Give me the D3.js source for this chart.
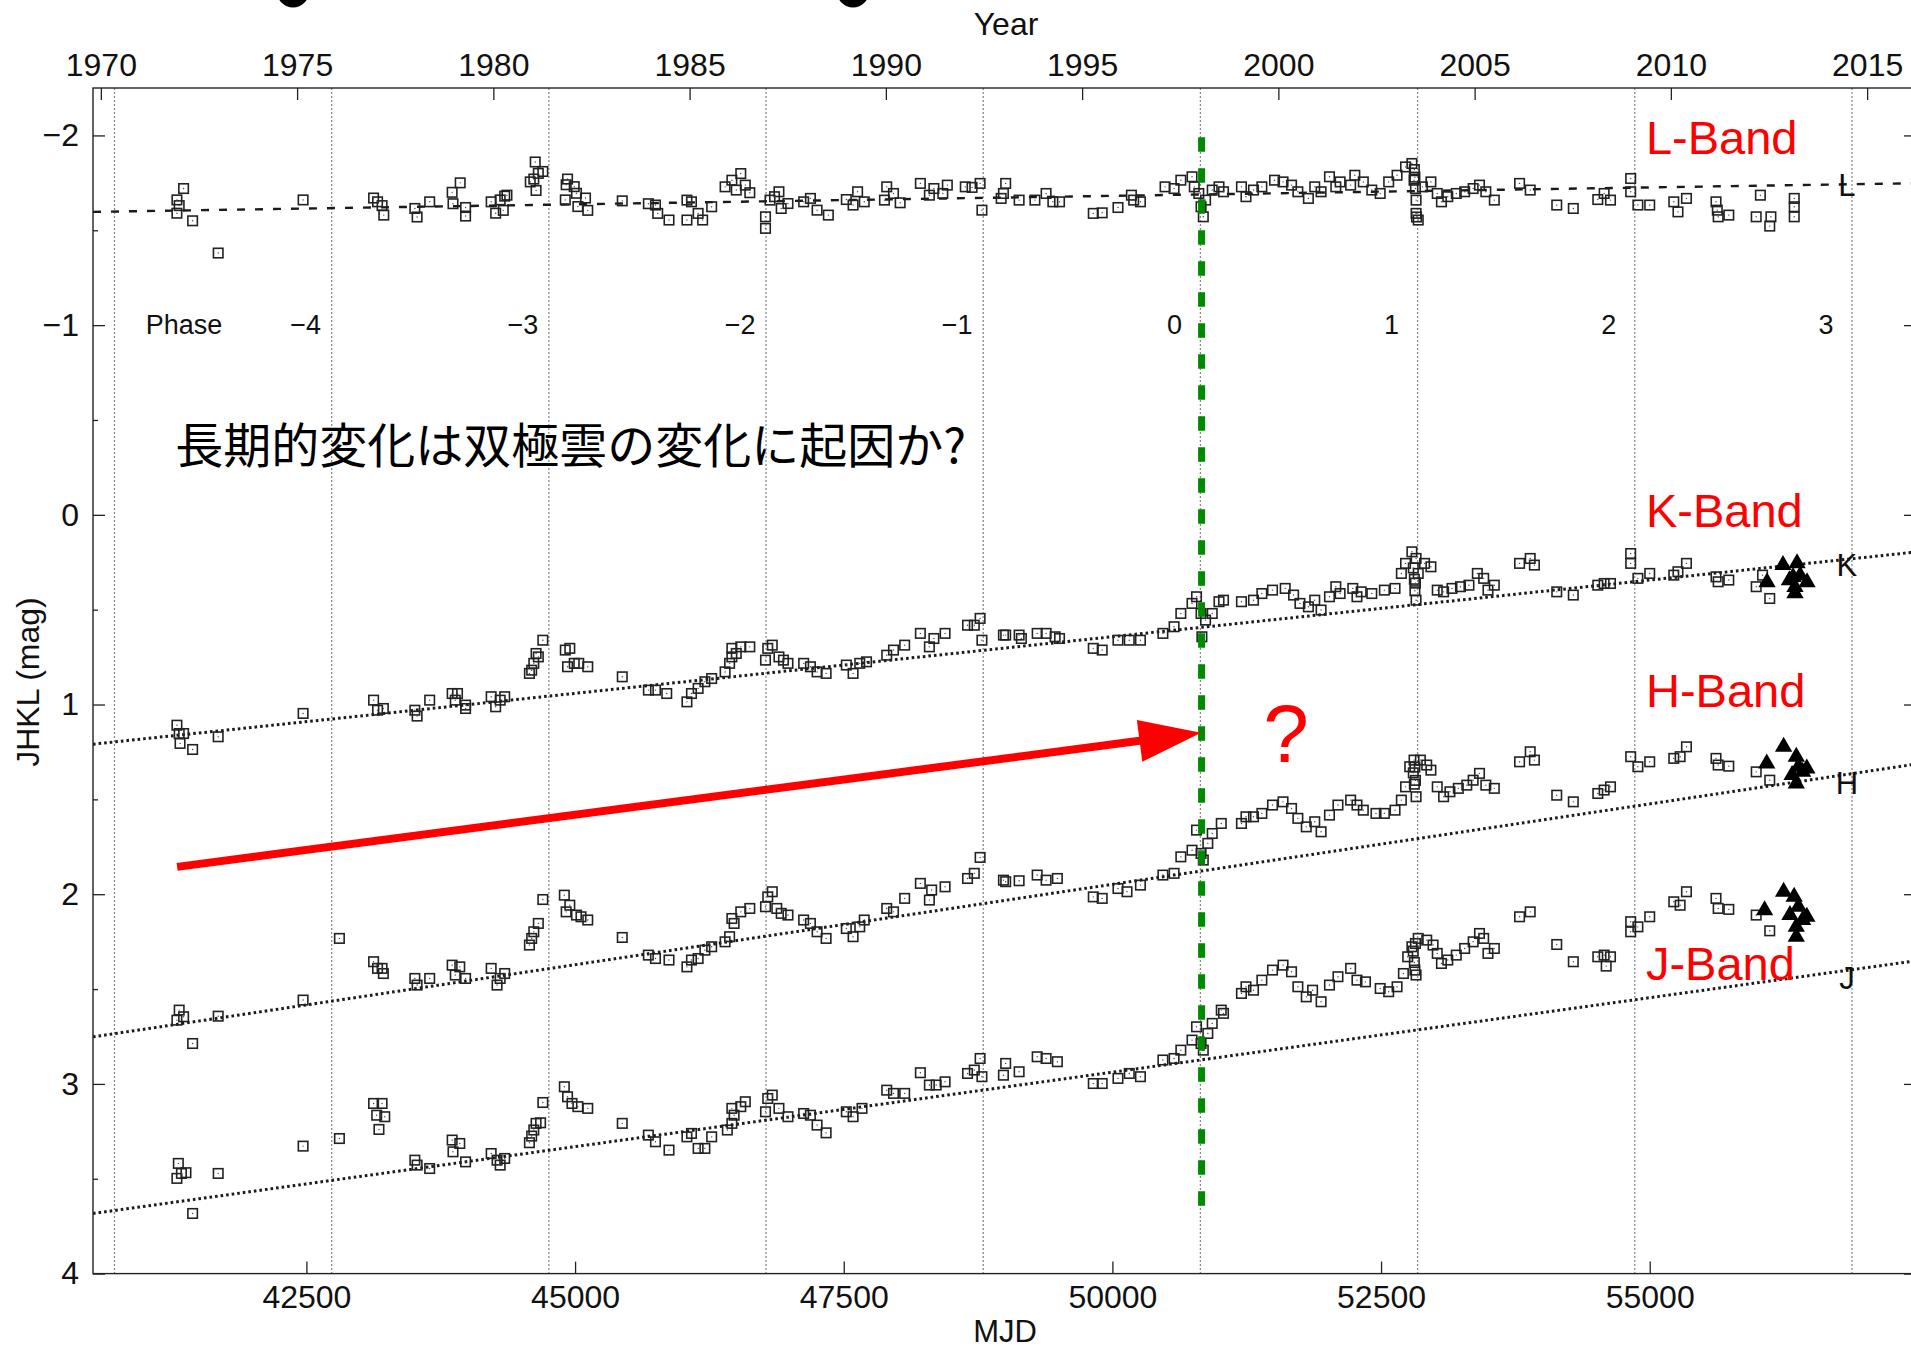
<!DOCTYPE html>
<html>
<head>
<meta charset="utf-8">
<script src="https://cdn.jsdelivr.net/npm/d3@7"></script>
<style>
  body { margin: 0; background: #fff; }
  svg { display: block; }
</style>
</head>
<body>
<div id="chart"></div>
<script>
// ---- values: [MJD, magnitude] ----
const bandL = [
  [41295,-1.66],[41316,-1.63],[41295,-1.59],[41357,-1.72],[41441,-1.55],[41679,-1.38],[42469,-1.66],
  [43125,-1.67],[43162,-1.65],[43204,-1.63],[43220,-1.58],[43509,-1.615],[43530,-1.57],[43647,-1.65],
  [43856,-1.70],[43931,-1.75],[43864,-1.64],[43981,-1.62],[43981,-1.575],[44219,-1.65],[44261,-1.59],
  [44303,-1.66],[44345,-1.68],[44366,-1.685],[44332,-1.605],[44583,-1.755],[44616,-1.77],[44629,-1.86],
  [44658,-1.80],[44700,-1.81],[44637,-1.71],[44930,-1.77],[44917,-1.74],[44992,-1.73],[45013,-1.695],
  [45097,-1.67],[45118,-1.605],[45026,-1.625],[44909,-1.66],[45439,-1.655],[45682,-1.64],
  [45748,-1.633],[45769,-1.589],[45874,-1.554],[46041,-1.659],[46083,-1.65],[46041,-1.554],[46145,-1.589],
  [46187,-1.554],[46271,-1.624],[46396,-1.729],[46459,-1.764],[46500,-1.712],[46542,-1.799],[46584,-1.738],
  [46626,-1.698],[46772,-1.571],[46772,-1.51],[46814,-1.659],[46856,-1.677],[46897,-1.703],[46918,-1.615],
  [46981,-1.641],[47127,-1.65],[47190,-1.668],[47252,-1.606],[47357,-1.58],[47524,-1.662],[47587,-1.633],
  [47629,-1.703],[47691,-1.65],[47879,-1.659],[47900,-1.729],[47963,-1.694],[48025,-1.645],[48213,-1.747],
  [48297,-1.685],[48339,-1.72],[48422,-1.694],[48464,-1.738],[48631,-1.729],[48694,-1.726],[48769,-1.747],
  [48786,-1.606],[48965,-1.668],[49007,-1.747],[48986,-1.694],[49132,-1.659],[49279,-1.659],[49383,-1.694],
  [49446,-1.65],[49508,-1.65],[49822,-1.589],[49905,-1.592],[50052,-1.62],[50177,-1.685],[50198,-1.659],
  [50261,-1.65],[50490,-1.729],[50574,-1.72],[50637,-1.764],[50741,-1.782],[50762,-1.729],[50804,-1.694],
  [50825,-1.624],[50846,-1.571],[50867,-1.659],[50929,-1.712],[50992,-1.729],[51034,-1.703],[51201,-1.729],
  [51243,-1.677],[51313,-1.712],[51391,-1.729],[51509,-1.764],[51588,-1.755],[51667,-1.738],[51726,-1.703],
  [51824,-1.668],[51883,-1.729],[51942,-1.703],[52020,-1.782],[52079,-1.729],[52119,-1.755],[52217,-1.738],
  [52256,-1.79],[52335,-1.755],[52414,-1.712],[52492,-1.694],[52571,-1.755],[52649,-1.79],[52728,-1.834],
  [52787,-1.852],[52807,-1.764],[52810,-1.82],[52815,-1.78],[52820,-1.72],[52826,-1.659],[52826,-1.589],
  [52830,-1.57],[52846,-1.554],[52885,-1.729],[52964,-1.755],[53023,-1.694],[53062,-1.65],[53121,-1.677],
  [53200,-1.694],[53278,-1.703],[53357,-1.72],[53416,-1.738],[53475,-1.703],[53554,-1.659],[53789,-1.747],
  [53888,-1.712],[54135,-1.633],[54289,-1.615],[54517,-1.662],[54576,-1.694],[54635,-1.659],[54823,-1.773],
  [54823,-1.703],[54890,-1.633],[55000,-1.633],[55224,-1.65],[55263,-1.597],[55342,-1.668],[55617,-1.65],
  [55629,-1.606],[55637,-1.571],[55736,-1.58],[55991,-1.571],[56030,-1.685],[56128,-1.571],[56117,-1.522],
  [56345,-1.668],[56345,-1.624],[56345,-1.571]
];

const bandK = [
  [41295,1.109],[41316,1.153],[41357,1.153],[41324,1.205],[41441,1.237],[41679,1.17],[42469,1.047],
  [43125,0.977],[43162,1.03],[43216,1.021],[43509,1.03],[43530,1.061],[43647,0.977],[43856,0.942],
  [43906,0.942],[43885,0.977],[43981,1.003],[43981,1.021],[44219,0.959],[44261,1.012],[44303,0.977],
  [44345,0.959],[44575,0.836],[44596,0.819],[44616,0.783],[44637,0.731],[44658,0.749],[44700,0.661],
  [44909,0.713],[44951,0.704],[44930,0.801],[44992,0.783],[45034,0.783],[45118,0.801],[45439,0.854],
  [45682,0.924],[45748,0.924],[45853,0.942],[46041,0.986],[46083,0.942],[46145,0.915],[46208,0.88],
  [46271,0.863],[46396,0.828],[46438,0.783],[46459,0.749],[46500,0.731],[46459,0.704],[46542,0.696],
  [46626,0.696],[46772,0.766],[46793,0.704],[46835,0.687],[46897,0.749],[46939,0.766],[46981,0.783],
  [47127,0.783],[47190,0.801],[47252,0.828],[47336,0.836],[47524,0.792],[47587,0.836],[47649,0.783],
  [47712,0.775],[47900,0.74],[47963,0.713],[48067,0.687],[48213,0.625],[48297,0.696],[48339,0.652],
  [48443,0.625],[48652,0.582],[48715,0.582],[48769,0.546],[48786,0.661],[48986,0.634],[49007,0.634],
  [49132,0.634],[49153,0.652],[49300,0.625],[49383,0.625],[49467,0.643],[49508,0.652],[49822,0.704],
  [49905,0.713],[50052,0.661],[50157,0.661],[50261,0.661],[50470,0.625],[50574,0.59],[50637,0.52],
  [50741,0.467],[50783,0.432],[50825,0.52],[50833,0.643],[50867,0.555],[50929,0.52],[50992,0.458],
  [51034,0.45],[51201,0.458],[51313,0.45],[51391,0.415],[51490,0.397],[51608,0.388],[51686,0.423],
  [51745,0.467],[51824,0.485],[51883,0.45],[51942,0.502],[52020,0.432],[52079,0.379],[52119,0.415],
  [52237,0.388],[52276,0.432],[52315,0.406],[52414,0.415],[52531,0.397],[52630,0.388],[52689,0.309],
  [52728,0.256],[52787,0.195],[52800,0.28],[52810,0.34],[52815,0.40],[52820,0.36],[52826,0.23],
  [52826,0.45],[52846,0.309],[52905,0.256],[52964,0.274],[53023,0.397],[53082,0.406],[53160,0.388],
  [53239,0.379],[53318,0.371],[53396,0.309],[53455,0.335],[53495,0.397],[53554,0.371],[53789,0.256],
  [53888,0.23],[53927,0.265],[54135,0.406],[54289,0.423],[54517,0.371],[54576,0.362],[54635,0.362],
  [54823,0.204],[54823,0.256],[54890,0.335],[55000,0.309],[55224,0.318],[55263,0.3],[55342,0.256],
  [55617,0.327],[55637,0.353],[55736,0.344],[55991,0.379],[56050,0.318],[56117,0.441]
];

const bandH = [
  [41295,2.664],[41316,2.611],[41357,2.646],[41441,2.787],[41679,2.643],[42469,2.558],[42807,2.233],
  [43125,2.356],[43162,2.391],[43204,2.391],[43216,2.418],[43509,2.444],[43530,2.479],[43647,2.444],
  [43856,2.374],[43885,2.426],[43927,2.383],[43981,2.444],[44219,2.391],[44274,2.479],[44303,2.444],
  [44345,2.418],[44575,2.268],[44596,2.233],[44616,2.198],[44658,2.154],[44700,2.028],[44900,2.005],
  [44917,2.093],[44951,2.058],[45013,2.11],[45055,2.119],[45118,2.136],[45439,2.228],[45682,2.321],
  [45748,2.339],[45874,2.347],[46041,2.383],[46083,2.347],[46145,2.339],[46208,2.295],[46271,2.277],
  [46396,2.251],[46438,2.224],[46480,2.154],[46459,2.128],[46542,2.093],[46626,2.075],[46772,2.066],
  [46793,2.014],[46835,1.987],[46877,2.075],[46918,2.101],[46981,2.11],[47127,2.136],[47190,2.154],
  [47252,2.198],[47336,2.233],[47524,2.181],[47587,2.224],[47649,2.172],[47691,2.136],[47900,2.075],
  [47963,2.093],[48067,2.022],[48213,1.943],[48297,2.031],[48318,1.978],[48443,1.961],[48652,1.917],
  [48715,1.89],[48769,1.806],[48986,1.926],[49007,1.934],[49132,1.929],[49300,1.899],[49383,1.926],
  [49488,1.917],[49822,2.014],[49905,2.022],[50052,1.97],[50136,1.987],[50261,1.952],[50470,1.899],
  [50574,1.89],[50637,1.803],[50741,1.768],[50783,1.662],[50825,1.785],[50846,1.82],[50888,1.732],
  [50929,1.68],[51013,1.627],[51201,1.627],[51243,1.592],[51313,1.592],[51391,1.574],[51490,1.53],
  [51588,1.513],[51667,1.548],[51726,1.6],[51804,1.645],[51883,1.618],[51942,1.671],[52020,1.583],
  [52099,1.53],[52217,1.504],[52276,1.53],[52335,1.557],[52453,1.574],[52531,1.574],[52630,1.557],
  [52689,1.504],[52728,1.434],[52767,1.328],[52800,1.36],[52807,1.293],[52810,1.42],[52815,1.33],
  [52820,1.40],[52826,1.486],[52866,1.293],[52925,1.319],[52964,1.346],[53023,1.434],[53082,1.486],
  [53141,1.46],[53219,1.442],[53298,1.425],[53357,1.399],[53416,1.363],[53475,1.425],[53554,1.442],
  [53789,1.302],[53888,1.249],[53927,1.293],[54135,1.478],[54289,1.513],[54517,1.469],[54576,1.451],
  [54635,1.434],[54823,1.275],[54890,1.328],[55000,1.302],[55224,1.284],[55283,1.275],[55342,1.223],
  [55617,1.284],[55637,1.319],[55736,1.325],[55991,1.355],[56117,1.399]
];

const bandJ = [
  [41295,3.498],[41308,3.419],[41337,3.472],[41379,3.468],[41441,3.683],[41679,3.472],[42469,3.328],
  [42807,3.288],[43125,3.103],[43204,3.103],[43154,3.165],[43229,3.173],[43175,3.24],[43509,3.402],
  [43530,3.428],[43647,3.446],[43856,3.296],[43864,3.358],[43927,3.314],[43981,3.411],[44219,3.367],
  [44274,3.402],[44303,3.428],[44345,3.393],[44575,3.31],[44596,3.275],[44616,3.243],[44637,3.208],
  [44679,3.205],[44700,3.098],[44900,3.015],[44930,3.068],[44971,3.103],[45026,3.12],[45118,3.129],
  [45439,3.208],[45682,3.27],[45748,3.305],[45874,3.349],[46041,3.279],[46083,3.261],[46145,3.34],
  [46208,3.34],[46271,3.279],[46417,3.243],[46459,3.208],[46480,3.165],[46459,3.129],[46542,3.12],
  [46584,3.094],[46772,3.147],[46793,3.077],[46835,3.059],[46897,3.129],[46981,3.173],[47127,3.156],
  [47190,3.165],[47252,3.217],[47336,3.258],[47524,3.147],[47587,3.173],[47670,3.129],[47900,3.033],
  [47963,3.05],[48067,3.05],[48213,2.941],[48297,3.006],[48360,3.006],[48443,2.989],[48652,2.945],
  [48715,2.927],[48769,2.866],[48786,2.962],[48986,2.954],[49007,2.892],[49132,2.936],[49300,2.857],
  [49383,2.866],[49488,2.883],[49822,2.998],[49905,2.998],[50052,2.971],[50157,2.945],[50261,2.962],
  [50470,2.874],[50574,2.866],[50637,2.822],[50741,2.769],[50783,2.699],[50825,2.787],[50846,2.822],
  [50888,2.734],[50929,2.681],[51013,2.611],[51034,2.628],[51201,2.523],[51243,2.488],[51313,2.506],
  [51391,2.453],[51490,2.4],[51588,2.374],[51667,2.409],[51726,2.488],[51804,2.541],[51863,2.506],
  [51942,2.567],[52020,2.479],[52099,2.435],[52217,2.391],[52276,2.453],[52355,2.462],[52492,2.497],
  [52571,2.514],[52649,2.488],[52708,2.418],[52748,2.33],[52787,2.277],[52800,2.30],[52810,2.36],
  [52815,2.40],[52820,2.26],[52826,2.426],[52846,2.233],[52925,2.242],[52984,2.268],[53023,2.312],
  [53062,2.365],[53121,2.347],[53200,2.321],[53278,2.286],[53357,2.251],[53416,2.207],[53455,2.233],
  [53495,2.312],[53554,2.286],[53789,2.119],[53888,2.093],[54135,2.265],[54289,2.356],[54517,2.33],
  [54576,2.321],[54595,2.379],[54635,2.33],[54823,2.145],[54823,2.198],[54890,2.172],[55000,2.119],
  [55224,2.04],[55283,2.058],[55342,1.987],[55617,2.022],[55637,2.075],[55736,2.08],[55991,2.11],
  [56117,2.193]
];

// recent measurements drawn as filled triangles
const triK = [[56092,0.355],[56240,0.265],[56371,0.255],[56334,0.328],[56352,0.381],[56464,0.355],[56352,0.413],[56300,0.345],[56400,0.32]];
const triH = [[56089,1.311],[56246,1.223],[56364,1.275],[56384,1.328],[56423,1.355],[56364,1.416],[56462,1.337],[56325,1.372]];
const triJ = [[56069,2.084],[56246,1.987],[56344,2.014],[56384,2.066],[56462,2.119],[56364,2.172],[56364,2.224],[56305,2.11],[56423,2.136]];

// linear trends: magnitude at the left and right ends of the MJD axis
const trendNames = ["L", "K", "H", "J"];
const trendStart = [-1.597, 1.209, 2.752, 3.683];
const trendEnd = [-1.748, 0.196, 1.314, 2.351];
const trendLabelMjd = 56835;
const trendLabelMag = [-1.737, 0.265, 1.415, 2.443];

// phase boundaries (MJD) and their labels
const phaseLines = [40714, 42735, 44756, 46777, 48798, 50819, 52840, 54861, 56882];
const phaseLabels = ["", "\u22124", "\u22123", "\u22122", "\u22121", "0", "1", "2", "3"];

// axes
const mjdDomain = [40514, 57478];
const magDomain = [-2.25, 4];
const mjdTicks = [42500, 45000, 47500, 50000, 52500, 55000];
const yearTicks = [1970, 1975, 1980, 1985, 1990, 1995, 2000, 2005, 2010, 2015];
const magTicks = [-2, -1, 0, 1, 2, 3, 4];
const magMinor = [-1.5, -0.5, 0.5, 1.5, 2.5, 3.5];

// annotations
const bandLabels = ["L-Band", "K-Band", "H-Band", "J-Band"];
const bandLabelMag = [-1.9, 0.064, 1.013, 2.452];
const bandLabelMjd = 54965;
const noteText = "長期的変化は双極雲の変化に起因か?";
const notePos = [41280, -0.275];
const arrowFrom = [41297, 1.856];
const arrowTo = [50825, 1.149];
const markMjd = 50830;
const markRange = [-1.99, 3.72];
const questionPos = [51616, 1.304];

// ---- drawing ----
const width = 1911, height = 1351;
const plot = { left: 93, right: 1916, top: 88, bottom: 1273.6 };
const font = "'Liberation Sans', Arial, Helvetica, sans-serif";

const svg = d3.select("#chart").append("svg")
    .attr("width", width)
    .attr("height", height)
    .style("background", "#fff");

const x = d3.scaleLinear().domain(mjdDomain).range([plot.left, plot.right]);
const y = d3.scaleLinear().domain(magDomain).range([plot.top, plot.bottom]);
const yearOf = m => 1970 + (m - 40587) / 365.25;
const xYear = d3.scaleLinear().domain(mjdDomain.map(yearOf)).range([plot.left, plot.right]);

svg.append("clipPath").attr("id", "clip")
    .append("rect")
    .attr("x", plot.left).attr("y", plot.top)
    .attr("width", plot.right - plot.left).attr("height", plot.bottom - plot.top);

// bottoms of a cropped heading
svg.selectAll("circle.cut").data([293, 853]).enter().append("circle")
    .attr("class", "cut").attr("cx", d => d).attr("cy", -8.5).attr("r", 16).attr("fill", "#000");

// phase boundaries
svg.append("g").selectAll("line").data(phaseLines).enter().append("line")
    .attr("x1", d => x(d)).attr("x2", d => x(d))
    .attr("y1", plot.top).attr("y2", plot.bottom)
    .attr("stroke", "#8a8a8a").attr("stroke-width", 1.3)
    .attr("stroke-dasharray", "2 2");

const phaseG = svg.append("g").attr("font-family", font).attr("font-size", 27).attr("fill", "#111");
phaseG.append("text").attr("x", 184).attr("y", y(-1) + 9).attr("text-anchor", "middle").text("Phase");
phaseG.selectAll("text.ph").data(phaseLines.slice(1)).enter().append("text")
    .attr("class", "ph")
    .attr("x", d => x(d) - 26).attr("y", y(-1) + 9)
    .attr("text-anchor", "middle")
    .text((d, i) => phaseLabels[i + 1]);

// trend lines
const trendG = svg.append("g").attr("clip-path", "url(#clip)");
trendNames.forEach((n, i) => {
    trendG.append("line")
        .attr("x1", x(mjdDomain[0])).attr("y1", y(trendStart[i]))
        .attr("x2", x(mjdDomain[1])).attr("y2", y(trendEnd[i]))
        .attr("stroke", "#1a1a1a")
        .attr("stroke-width", i === 0 ? 2.4 : 3)
        .attr("stroke-dasharray", i === 0 ? "8 10" : "2.6 3");
});
svg.append("g").attr("font-family", font).attr("font-size", 31).attr("fill", "#111")
    .selectAll("text").data(trendNames).enter().append("text")
    .attr("x", x(trendLabelMjd)).attr("y", (d, i) => y(trendLabelMag[i]) + 11)
    .attr("text-anchor", "middle")
    .text(d => d);

// open squares
const squares = [].concat(bandL, bandK, bandH, bandJ);
const sq = svg.append("g");
sq.selectAll("rect").data(squares).enter().append("rect")
    .attr("x", d => x(d[0]) - 4.75).attr("y", d => y(d[1]) - 4.75)
    .attr("width", 9.5).attr("height", 9.5)
    .attr("fill", "none").attr("stroke", "#222").attr("stroke-width", 1.6);
sq.selectAll("circle").data(squares).enter().append("circle")
    .attr("cx", d => x(d[0])).attr("cy", d => y(d[1]))
    .attr("r", 0.7).attr("fill", "#444");

// filled triangles
const tri = d3.symbol().type(d3.symbolTriangle).size(130);
svg.append("g").selectAll("path").data([].concat(triK, triH, triJ)).enter().append("path")
    .attr("d", tri)
    .attr("transform", d => `translate(${x(d[0])},${y(d[1])})`)
    .attr("fill", "#000");

// axes
function styleAxis(g) {
    g.attr("font-size", 32).attr("font-family", font);
    g.select(".domain").remove();
    g.selectAll(".tick line").attr("stroke", "#222").attr("stroke-width", 1.3);
    g.selectAll("text").attr("fill", "#111");
}
const fmtMag = d => d < 0 ? "\u2212" + Math.abs(d) : String(d);

svg.append("g").attr("transform", `translate(0,${plot.bottom})`)
    .call(d3.axisBottom(x).tickValues(mjdTicks).tickSizeInner(-12).tickSizeOuter(0).tickPadding(12).tickFormat(d3.format("d")))
    .call(styleAxis);
svg.append("g").attr("transform", `translate(0,${plot.top})`)
    .call(d3.axisTop(xYear).tickValues(yearTicks).tickSizeInner(-12).tickSizeOuter(0).tickPadding(12).tickFormat(d3.format("d")))
    .call(styleAxis);
svg.append("g").attr("transform", `translate(${plot.left},0)`)
    .call(d3.axisLeft(y).tickValues(magTicks).tickSizeInner(-12).tickSizeOuter(0).tickPadding(14).tickFormat(fmtMag))
    .call(styleAxis);
svg.append("g").attr("transform", `translate(${plot.left},0)`)
    .call(d3.axisLeft(y).tickValues(magMinor).tickSizeInner(-5).tickSizeOuter(0).tickFormat(""))
    .call(styleAxis);
svg.append("g").attr("transform", `translate(${plot.right},0)`)
    .call(d3.axisRight(y).tickValues(magTicks).tickSizeInner(-12).tickSizeOuter(0).tickFormat(""))
    .call(styleAxis);
svg.append("g").attr("transform", `translate(${plot.right},0)`)
    .call(d3.axisRight(y).tickValues(magMinor).tickSizeInner(-5).tickSizeOuter(0).tickFormat(""))
    .call(styleAxis);

svg.append("rect")
    .attr("x", plot.left).attr("y", plot.top)
    .attr("width", plot.right - plot.left).attr("height", plot.bottom - plot.top)
    .attr("fill", "none").attr("stroke", "#222").attr("stroke-width", 1.4);

// axis titles
const titles = svg.append("g").attr("font-family", font).attr("font-size", 32).attr("fill", "#111").attr("text-anchor", "middle");
titles.append("text").attr("x", 1006).attr("y", 35).text("Year");
titles.append("text").attr("x", 1005).attr("y", 1342).attr("font-size", 31).text("MJD");
titles.append("text").attr("transform", "translate(39,682) rotate(-90)").text("JHKL (mag)");

// green marker at phase 0
svg.append("line")
    .attr("x1", x(markMjd)).attr("x2", x(markMjd))
    .attr("y1", y(markRange[0])).attr("y2", y(markRange[1]))
    .attr("stroke", "#008a00").attr("stroke-width", 7)
    .attr("stroke-dasharray", "14.5 16.5");

// red arrow
const ax0 = x(arrowFrom[0]), ay0 = y(arrowFrom[1]);
const ax1 = x(arrowTo[0]), ay1 = y(arrowTo[1]);
const ang = Math.atan2(ay1 - ay0, ax1 - ax0);
const headLen = 62, headHalf = 21;
const bx = ax1 - Math.cos(ang) * headLen, by = ay1 - Math.sin(ang) * headLen;
svg.append("line")
    .attr("x1", ax0).attr("y1", ay0)
    .attr("x2", bx + Math.cos(ang) * 4).attr("y2", by + Math.sin(ang) * 4)
    .attr("stroke", "#ff0000").attr("stroke-width", 8);
svg.append("path")
    .attr("d", `M${ax1},${ay1}L${bx - Math.sin(ang) * headHalf},${by + Math.cos(ang) * headHalf}L${bx + Math.sin(ang) * headHalf},${by - Math.cos(ang) * headHalf}Z`)
    .attr("fill", "#ff0000");

// red text
const red = svg.append("g").attr("font-family", font).attr("fill", "#ff0000");
red.selectAll("text").data(bandLabels).enter().append("text")
    .attr("x", x(bandLabelMjd)).attr("y", (d, i) => y(bandLabelMag[i]))
    .attr("font-size", 47)
    .text(d => d);
red.append("text")
    .attr("x", x(questionPos[0])).attr("y", y(questionPos[1]))
    .attr("text-anchor", "middle").attr("font-size", 82)
    .text("?");

// note
svg.append("text")
    .attr("x", x(notePos[0])).attr("y", y(notePos[1]))
    .attr("font-family", "'Noto Sans CJK JP', sans-serif")
    .attr("font-size", 48).attr("fill", "#000")
    .text(noteText);
</script>
</body>
</html>
